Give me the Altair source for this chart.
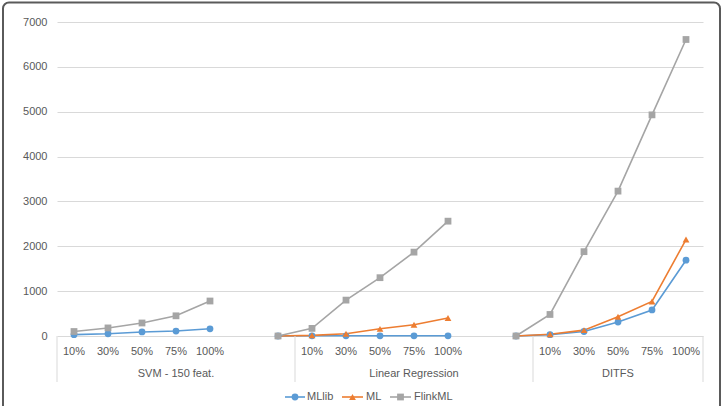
import altair as alt
import pandas as pd

# ---- data ----
pct_labels = ["10%", "30%", "50%", "75%", "100%"]
groups = ["SVM - 150 feat.", "Linear Regression", "DITFS"]
series = ["MLlib", "ML", "FlinkML"]
colors = ["#5B9BD5", "#ED7D31", "#A5A5A5"]

# SVM group: 5 labelled categories
svm_mllib = [30, 50, 90, 110, 160]
svm_ml = [None, None, None, None, None]
svm_flink = [100, 180, 290, 450, 780]
# LR and DITFS: a leading unlabelled category (value 0) + 5 labelled categories
lr_mllib = [0, 5, 5, 5, 5, 5]
lr_ml = [0, 15, 50, 160, 250, 400]
lr_flink = [0, 170, 800, 1300, 1870, 2560]
ditfs_mllib = [0, 30, 100, 310, 580, 1690]
ditfs_ml = [0, 40, 130, 430, 770, 2150]
ditfs_flink = [0, 480, 1880, 3230, 4930, 6610]

# category slots on the axis (19 slots, empty slots between groups)
svm_slots = [0, 1, 2, 3, 4]
lr_slots = [6, 7, 8, 9, 10, 11]
ditfs_slots = [13, 14, 15, 16, 17, 18]
label_slots = [0, 1, 2, 3, 4, 7, 8, 9, 10, 11, 14, 15, 16, 17, 18]
group_bounds = [0, 7, 14, 19]
group_centers = [3.5, 10.5, 16.5]

rows = []
table = [
    (groups[0], svm_slots, [svm_mllib, svm_ml, svm_flink]),
    (groups[1], lr_slots, [lr_mllib, lr_ml, lr_flink]),
    (groups[2], ditfs_slots, [ditfs_mllib, ditfs_ml, ditfs_flink]),
]
for si, s in enumerate(series):
    for g, slots, vals in table:
        for slot, v in zip(slots, vals[si]):
            if v is not None:
                rows.append({"x": slot + 0.5, "y": v, "series": s, "group": g, "ord": si})
df = pd.DataFrame(rows)

W, H = 646, 314
TXT = "#595959"
GRID = "#D9D9D9"
FONT = "Liberation Sans"
Y_MAX = 7000
SEP_DEPTH = -Y_MAX * 46 / H   # separators hang 46 px below the zero line

labels_df = pd.DataFrame({"x": [s + 0.5 for s in label_slots], "label": pct_labels * 3})
groups_df = pd.DataFrame({"x": group_centers, "label": groups})
sep_rows = []
for b in group_bounds:
    sep_rows.append({"x": b, "y": 0, "id": b})
    sep_rows.append({"x": b, "y": SEP_DEPTH, "id": b})
seps_df = pd.DataFrame(sep_rows)

# legend layout (pixel positions inside the plot area)
leg_df = pd.DataFrame({
    "series": series,
    "x0": [228, 285, 333],
    "x1": [248, 306, 354],
    "xm": [238, 295.5, 343.5],
    "xt": [250, 309, 357],
    "y": [375, 375, 375],
})
frame_df = pd.DataFrame({"x0": [-54], "x1": [663], "y0": [-19.5], "y1": [400]})

xscale = alt.Scale(domain=[0, 19], nice=False, zero=False)
yscale = alt.Scale(domain=[0, Y_MAX], nice=False)
cscale = alt.Scale(domain=series, range=colors)
shscale = alt.Scale(domain=series, range=["circle", "triangle-up", "square"])

base = alt.Chart(df)

lines = base.mark_line(strokeWidth=1.6).encode(
    x=alt.X("x:Q", scale=xscale, axis=None),
    y=alt.Y("y:Q", scale=yscale,
            axis=alt.Axis(values=[0, 1000, 2000, 3000, 4000, 5000, 6000, 7000],
                          format="d",
                          grid=True, gridColor=GRID, domain=False, ticks=False,
                          labelColor=TXT, labelFontSize=11, labelFont=FONT,
                          labelPadding=10, title=None)),
    color=alt.Color("series:N", scale=cscale, legend=None),
    detail="group:N",
)

points = base.mark_point(filled=True, opacity=1, size=46).encode(
    x=alt.X("x:Q", scale=xscale, axis=None),
    y=alt.Y("y:Q", scale=yscale),
    color=alt.Color("series:N", scale=cscale, legend=None),
    shape=alt.Shape("series:N", scale=shscale, legend=None),
)

seps = alt.Chart(seps_df).mark_line(color=GRID, strokeWidth=1).encode(
    x=alt.X("x:Q", scale=xscale, axis=None),
    y=alt.Y("y:Q", scale=yscale),
    detail="id:N",
)

tick_labels = alt.Chart(labels_df).mark_text(fontSize=11, font=FONT, color=TXT, baseline="middle").encode(
    x=alt.X("x:Q", scale=xscale, axis=None),
    y=alt.value(H + 16),
    text="label:N",
)

group_labels = alt.Chart(groups_df).mark_text(fontSize=11, font=FONT, color=TXT, baseline="middle").encode(
    x=alt.X("x:Q", scale=xscale, axis=None),
    y=alt.value(H + 38),
    text="label:N",
)

leg_base = alt.Chart(leg_df)
leg_lines = leg_base.mark_rule(strokeWidth=1.6).encode(
    x=alt.X("x0:Q", scale=None), x2="x1:Q",
    y=alt.Y("y:Q", scale=None),
    color=alt.Color("series:N", scale=cscale, legend=None),
)
leg_pts = leg_base.mark_point(filled=True, opacity=1, size=46).encode(
    x=alt.X("xm:Q", scale=None),
    y=alt.Y("y:Q", scale=None),
    color=alt.Color("series:N", scale=cscale, legend=None),
    shape=alt.Shape("series:N", scale=shscale, legend=None),
)
leg_txt = leg_base.mark_text(fontSize=11, font=FONT, color=TXT, align="left", baseline="middle").encode(
    x=alt.X("xt:Q", scale=None),
    y=alt.Y("y:Q", scale=None),
    text="series:N",
)

frame = alt.Chart(frame_df).mark_rect(
    fill="transparent", stroke="#5a5a5a", strokeWidth=2, cornerRadius=6
).encode(
    x=alt.X("x0:Q", scale=None), x2="x1:Q",
    y=alt.Y("y0:Q", scale=None), y2="y1:Q",
)

chart = alt.layer(
    frame, lines, seps, points, tick_labels, group_labels, leg_lines, leg_pts, leg_txt
).properties(
    width=W, height=H,
    autosize=alt.AutoSizeParams(type="none"),
    padding={"left": 57, "top": 22, "right": 19, "bottom": 70},
    background="white",
).configure(font=FONT).configure_view(stroke=None)

chart.save("out.html", embed_options={"renderer": "svg", "actions": False})
